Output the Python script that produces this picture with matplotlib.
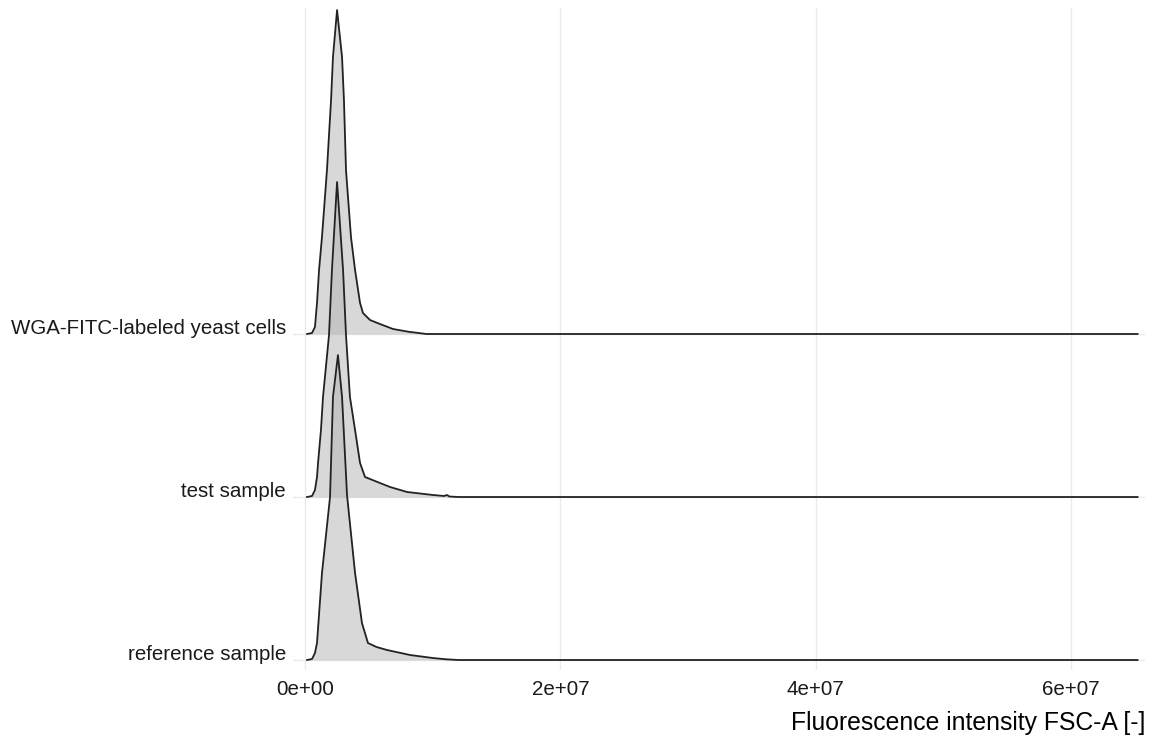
import matplotlib
matplotlib.use("Agg")
import matplotlib.pyplot as plt
import numpy as np

plt.rcParams['font.family'] = ['Liberation Sans', 'DejaVu Sans']

# ---- data (x in units of 1e6, density per 1e6) ----
categories = ["reference sample", "test sample", "WGA-FITC-labeled yeast cells"]

ref_x = [0.16, 0.55, 0.78, 0.94, 1.33, 1.96, 2.19, 2.58, 2.90, 3.29, 3.92, 4.46, 4.93, 5.60, 6.42, 8.22, 10.0, 11.0, 12.0]
ref_d = [0, 0.002, 0.014, 0.034, 0.174, 0.326, 0.526, 0.610, 0.526, 0.330, 0.174, 0.074, 0.034, 0.026, 0.020, 0.010, 0.004, 0.0015, 0]

test_x = [0.16, 0.55, 0.78, 0.94, 1.02, 1.25, 1.41, 1.88, 2.11, 2.51, 2.98, 3.21, 3.52, 3.92, 4.31, 4.70, 5.87, 6.66, 7.99, 10.02, 10.9, 11.12, 11.3, 12.0]
test_d = [0, 0.002, 0.014, 0.040, 0.068, 0.134, 0.200, 0.324, 0.454, 0.630, 0.454, 0.324, 0.200, 0.134, 0.068, 0.040, 0.028, 0.020, 0.010, 0.004, 0.002, 0.004, 0.001, 0]

wga_x = [0.16, 0.55, 0.78, 0.94, 1.10, 1.33, 1.72, 2.04, 2.19, 2.51, 2.90, 3.05, 3.21, 3.60, 3.92, 4.31, 4.54, 5.09, 5.87, 6.89, 8.22, 8.6, 9.5]
wga_d = [0, 0.002, 0.014, 0.062, 0.128, 0.194, 0.328, 0.468, 0.554, 0.648, 0.554, 0.468, 0.328, 0.194, 0.128, 0.062, 0.042, 0.028, 0.020, 0.010, 0.004, 0.003, 0]

x_max = 65.2          # data range end (1e6)
x_ticks = [0, 2e7, 4e7, 6e7]
x_tick_labels = ["0e+00", "2e+07", "4e+07", "6e+07"]
x_title = "Fluorescence intensity FSC-A [-]"

ridge_scale = 3.067   # rows per density unit

# ---- figure ----
fig = plt.figure(figsize=(11.55, 7.4), dpi=100)
ax = fig.add_axes([293/1155, 1-670/740, (1145-293)/1155, (670-8)/740])

grid_c = '#EBEBEB'
for xt in x_ticks:
    ax.axvline(xt, color=grid_c, lw=1.0, zorder=0)
for i in range(len(categories)):
    ax.axhline(i + 1, color=grid_c, lw=1.0, zorder=0)

series = [(ref_x, ref_d), (test_x, test_d), (wga_x, wga_d)]
# draw from top row to bottom so lower ridges overlay upper ones
for i in reversed(range(len(series))):
    xs, ds = series[i]
    xs = np.array(list(xs) + [x_max]) * 1e6
    ds = np.array(list(ds) + [0.0])
    base = i + 1
    ys = base + ds * ridge_scale
    z = 10 + (len(series) - i) * 2
    ax.fill_between(xs, base, ys, color='#B3B3B3', alpha=0.5, lw=0, zorder=z)
    ax.plot(xs, ys, color='#222222', lw=1.3, zorder=z + 1, solid_joinstyle='round')

ax.set_xlim(-0.94e6, 65.78e6)
ax.set_ylim(1 - 10/163, 5.0)

ax.set_xticks(x_ticks)
ax.set_xticklabels(x_tick_labels, fontsize=14.8, color='#1a1a1a')
ax.set_yticks([1, 2, 3])
ax.set_yticklabels(categories, fontsize=14.8, color='#1a1a1a', va='baseline')
ax.tick_params(axis='both', length=0)
ax.tick_params(axis='x', pad=7.3)
ax.tick_params(axis='y', pad=5)

for s in ax.spines.values():
    s.set_visible(False)

ax.set_xlabel(x_title, fontsize=17.8, color='black', loc='right', labelpad=8.5)

fig.savefig("out.png", dpi=100)
